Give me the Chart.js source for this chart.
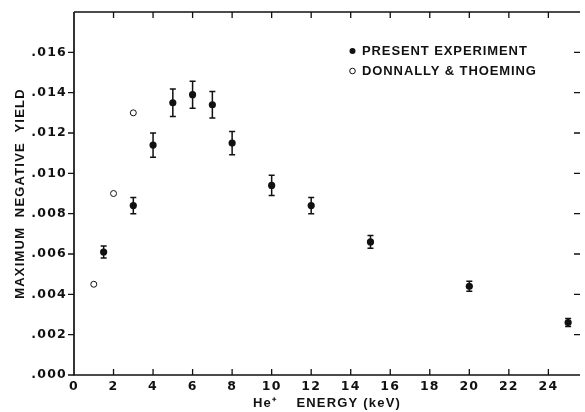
<!DOCTYPE html>
<html>
<head>
<meta charset="utf-8">
<script src="https://cdn.jsdelivr.net/npm/chart.js@4.4.1/dist/chart.umd.min.js"></script>
<style>
  html, body { margin: 0; padding: 0; background: #fff; }
  #wrap { width: 585px; height: 412px; position: relative; }
</style>
</head>
<body>
<div id="wrap"><canvas id="yieldChart"></canvas></div>
<script>
// data //////////////////////////////////////////////
var energy = [1.5, 3, 4, 5, 6, 7, 8, 10, 12, 15, 20, 25];
var yieldPresent = [0.0061, 0.0084, 0.0114, 0.0135, 0.0139, 0.0134, 0.0115, 0.0094, 0.0084, 0.0066, 0.0044, 0.0026];
var yieldError = [0.0003, 0.0004, 0.0006, 0.00068, 0.00067, 0.00066, 0.00058, 0.0005, 0.0004, 0.00032, 0.00025, 0.0002];

var energyDT = [1, 2, 3];
var yieldDT = [0.0045, 0.0090, 0.0130];

var xTicks = [0, 2, 4, 6, 8, 10, 12, 14, 16, 18, 20, 22, 24];
var yTicks = [0, 0.002, 0.004, 0.006, 0.008, 0.010, 0.012, 0.014, 0.016];

var ink = '#111';

function pts(xs, ys) {
	return xs.map(function (x, i) { return { x: x, y: ys[i] }; });
}

// frame with tick marks: left ticks outside, the rest inside
var framePlugin = {
	id: 'frame',
	beforeDraw: function (chart) {
		chart.ctx.letterSpacing = '1.2px';
	},
	afterDraw: function (chart) {
		var ctx = chart.ctx, a = chart.chartArea;
		var sx = chart.scales.x, sy = chart.scales.y;
		ctx.save();
		ctx.letterSpacing = '0px';
		ctx.strokeStyle = ink;
		ctx.lineWidth = 1.7;
		ctx.beginPath();
		ctx.moveTo(a.left, a.top);
		ctx.lineTo(a.right, a.top);
		ctx.moveTo(a.left, a.top);
		ctx.lineTo(a.left, a.bottom);
		ctx.lineTo(a.right, a.bottom);
		ctx.stroke();
		ctx.lineWidth = 1.3;
		ctx.beginPath();
		xTicks.forEach(function (v) {
			var px = sx.getPixelForValue(v);
			if (v > 0) {
				ctx.moveTo(px, a.bottom);
				ctx.lineTo(px, a.bottom - 6);
				ctx.moveTo(px, a.top);
				ctx.lineTo(px, a.top + 6);
			}
		});
		yTicks.forEach(function (v) {
			var py = sy.getPixelForValue(v);
			ctx.moveTo(a.left - 6, py);
			ctx.lineTo(a.left, py);
			if (v > 0) {
				ctx.moveTo(a.right - 6, py);
				ctx.lineTo(a.right, py);
			}
		});
		ctx.stroke();
		ctx.restore();
	}
};

// error bars on the present experiment
var errorBarPlugin = {
	id: 'errorBars',
	afterDatasetsDraw: function (chart) {
		var ctx = chart.ctx, sy = chart.scales.y;
		var meta = chart.getDatasetMeta(0);
		ctx.save();
		ctx.strokeStyle = ink;
		ctx.lineWidth = 1.5;
		ctx.beginPath();
		meta.data.forEach(function (p, i) {
			var top = sy.getPixelForValue(yieldPresent[i] + yieldError[i]);
			var bot = sy.getPixelForValue(yieldPresent[i] - yieldError[i]);
			ctx.moveTo(p.x, top);
			ctx.lineTo(p.x, bot);
			ctx.moveTo(p.x - 3, top);
			ctx.lineTo(p.x + 3, top);
			ctx.moveTo(p.x - 3, bot);
			ctx.lineTo(p.x + 3, bot);
		});
		ctx.stroke();
		ctx.restore();
	}
};

// legend inside the plot, upper right
var legendPlugin = {
	id: 'insideLegend',
	afterDraw: function (chart) {
		var ctx = chart.ctx;
		var rows = [{ x: 352.5, y: 51 }, { x: 352.5, y: 71 }];
		ctx.save();
		ctx.font = 'bold 13px "Liberation Sans", Arial, sans-serif';
		ctx.letterSpacing = '0.9px';
		ctx.textBaseline = 'middle';
		ctx.fillStyle = ink;
		chart.data.datasets.forEach(function (ds, i) {
			var r = rows[i];
			ctx.beginPath();
			ctx.arc(r.x, r.y, i === 0 ? 3 : 2.8, 0, Math.PI * 2);
			if (i === 0) {
				ctx.fill();
			} else {
				ctx.lineWidth = 1;
				ctx.strokeStyle = ink;
				ctx.stroke();
			}
			ctx.fillText(ds.label, r.x + 9.5, r.y + 0.5);
		});
		ctx.restore();
	}
};

var tickFont = { family: '"DejaVu Sans", sans-serif', size: 12.5, weight: 'bold' };
var titleFont = { family: '"Liberation Sans", Arial, sans-serif', size: 13, weight: 'bold' };

var yieldChart = new Chart(document.getElementById('yieldChart').getContext('2d'), {
	type: 'scatter',
	data: {
		datasets: [{
			label: 'PRESENT EXPERIMENT',
			data: pts(energy, yieldPresent),
			pointRadius: 3.6,
			pointBackgroundColor: ink,
			pointBorderColor: ink,
			pointBorderWidth: 0
		}, {
			label: 'DONNALLY & THOEMING',
			data: pts(energyDT, yieldDT),
			pointRadius: 3,
			pointBackgroundColor: '#fff',
			pointBorderColor: ink,
			pointBorderWidth: 1
		}]
	},
	options: {
		responsive: true,
		maintainAspectRatio: false,
		animation: false,
		layout: { padding: { top: 12, right: 0, bottom: 0, left: 0 } },
		plugins: {
			legend: { display: false },
			tooltip: { enabled: false }
		},
		scales: {
			x: {
				type: 'linear',
				min: 0,
				max: 25.6,
				afterFit: function (s) { s.height = 37; s.paddingLeft = 0; s.paddingRight = 0; },
				afterBuildTicks: function (s) { s.ticks = xTicks.map(function (v) { return { value: v }; }); },
				grid: { drawOnChartArea: false, drawTicks: false },
				border: { display: false },
				ticks: { color: ink, font: tickFont, padding: 4, maxRotation: 0, autoSkip: false },
				title: { display: true, text: 'He\u207A    ENERGY (keV)', color: ink, font: titleFont, padding: { top: 0, bottom: 1 } }
			},
			y: {
				type: 'linear',
				min: 0,
				max: 0.018,
				afterFit: function (s) { s.width = 74; s.paddingTop = 0; s.paddingBottom = 0; },
				afterBuildTicks: function (s) { s.ticks = yTicks.map(function (v) { return { value: v }; }); },
				grid: { drawOnChartArea: false, drawTicks: false },
				border: { display: false },
				ticks: {
					color: ink, font: tickFont, padding: 7,
					callback: function (v) { return v.toFixed(3).replace('0.', '.'); }
				},
				title: { display: true, text: 'MAXIMUM  NEGATIVE  YIELD', color: ink, font: titleFont, padding: { top: 13, bottom: 0 } }
			}
		}
	},
	plugins: [framePlugin, errorBarPlugin, legendPlugin]
});
</script>
</body>
</html>
